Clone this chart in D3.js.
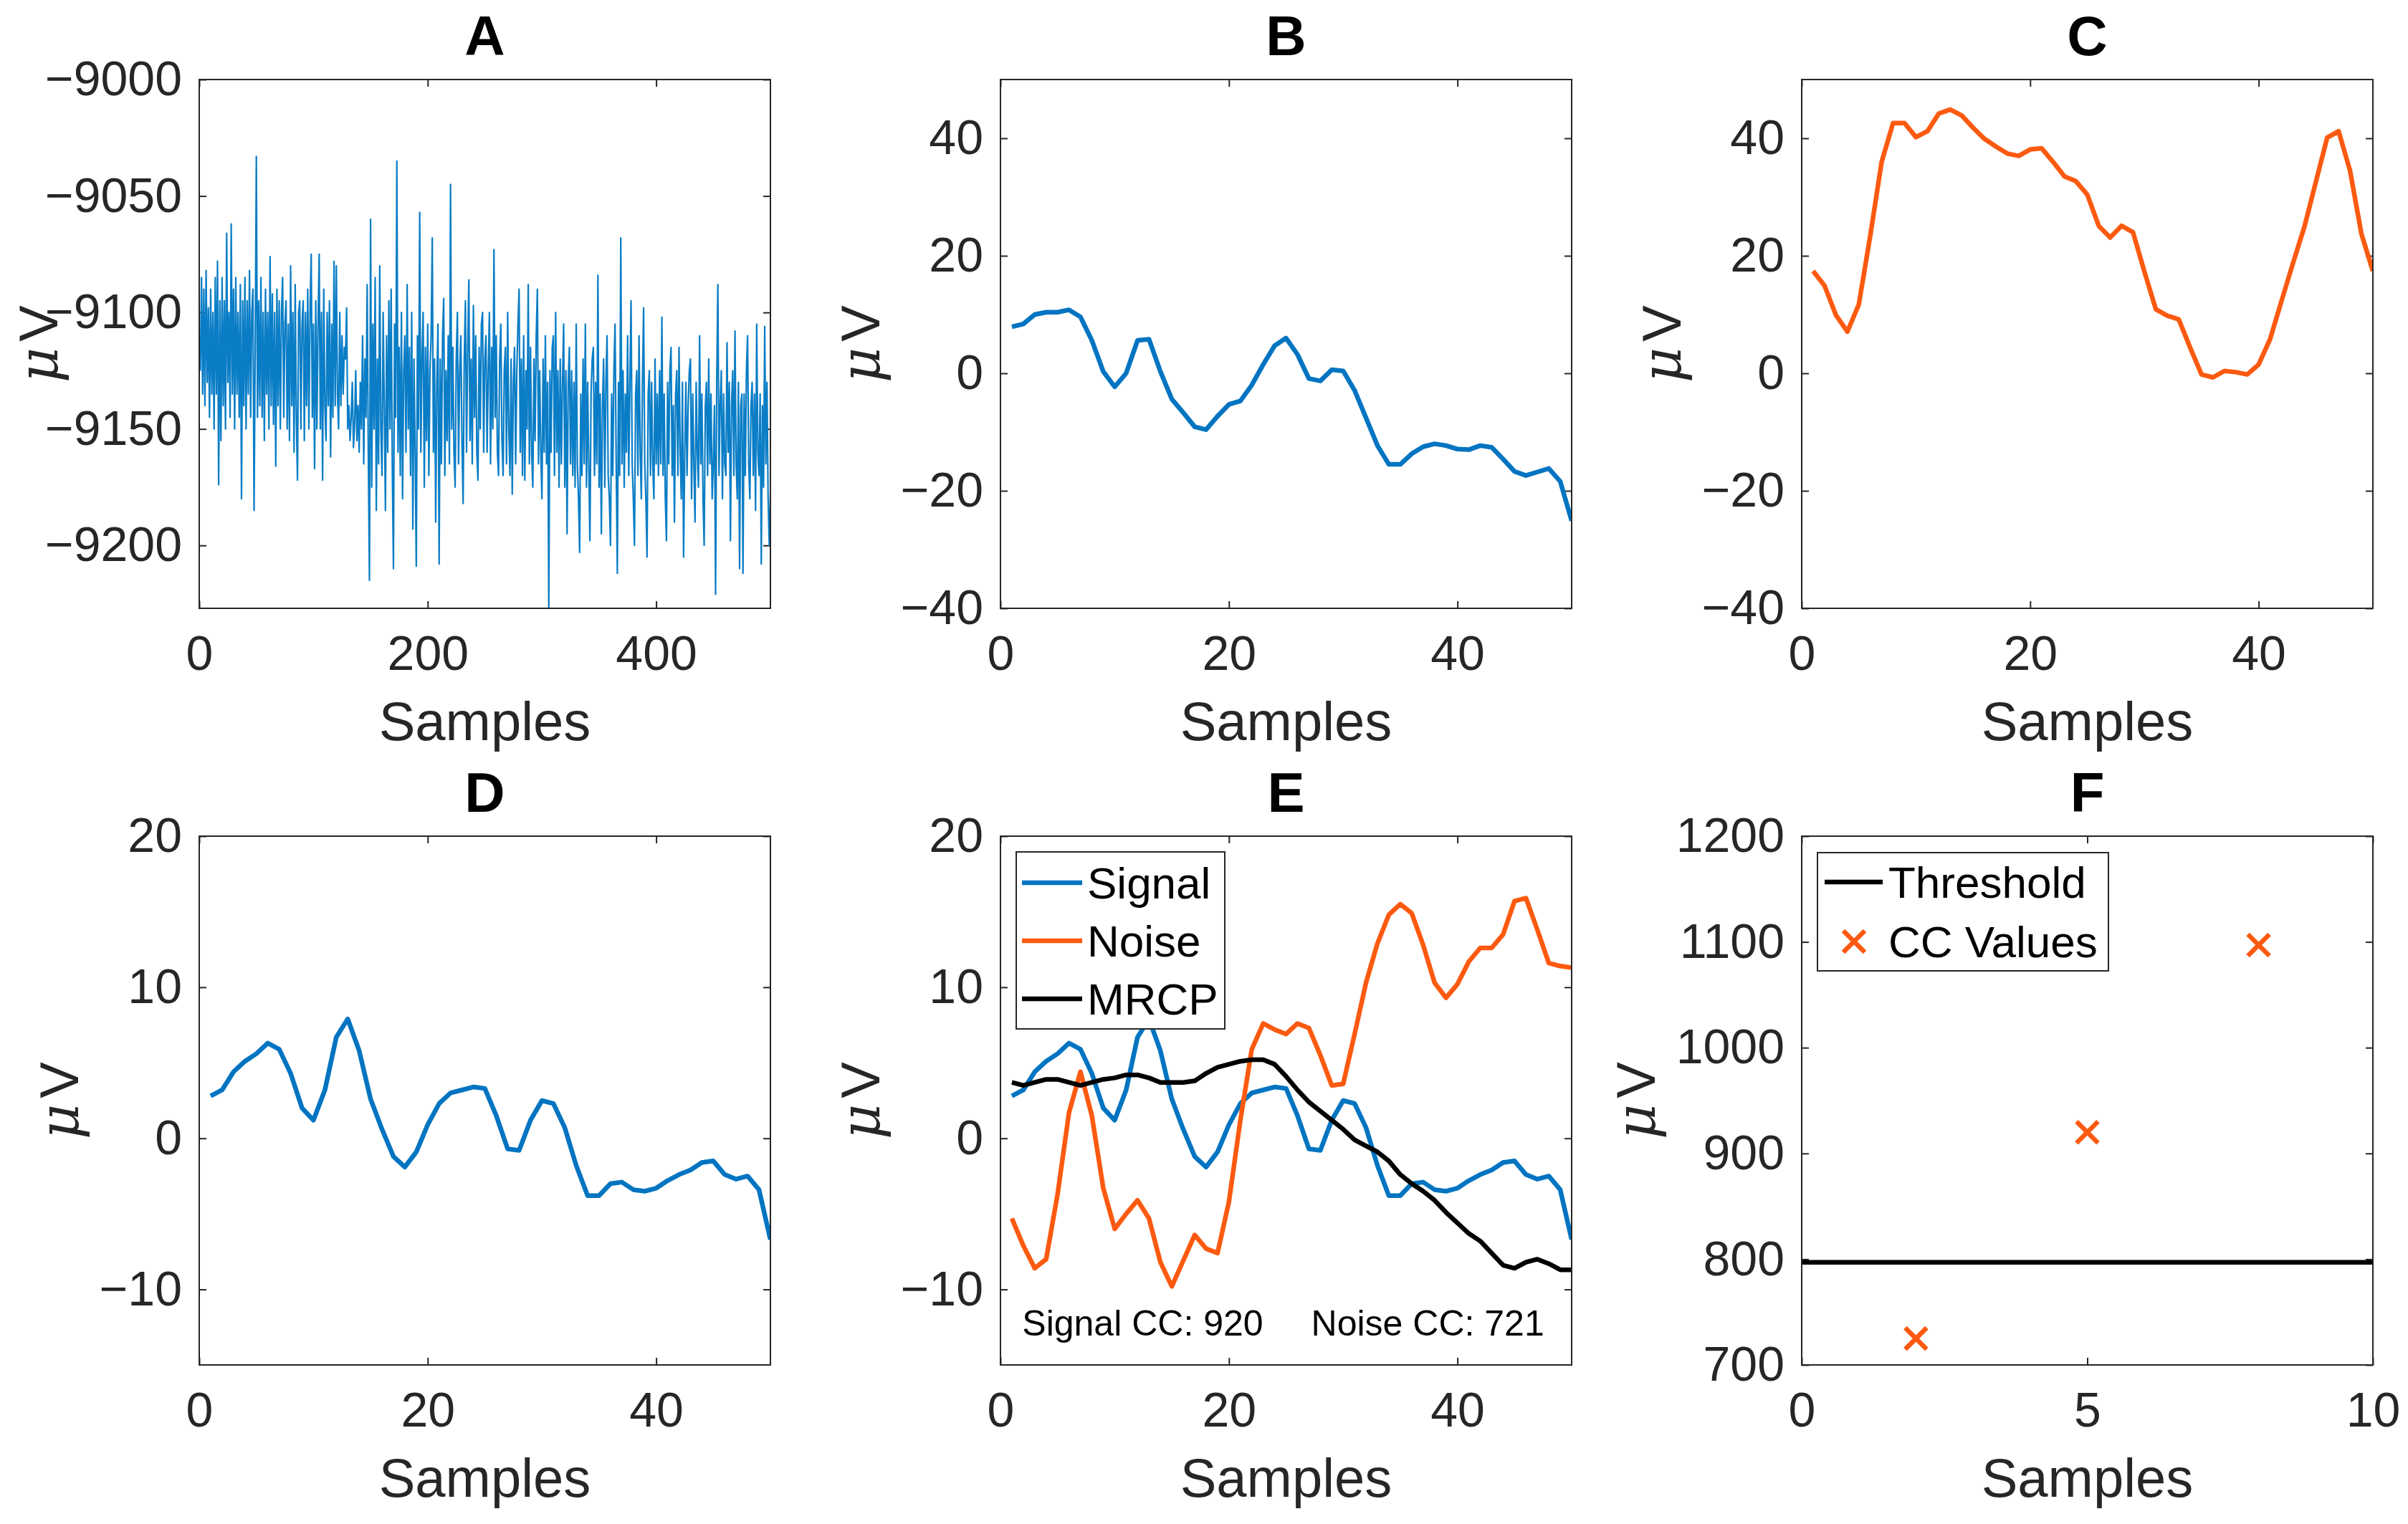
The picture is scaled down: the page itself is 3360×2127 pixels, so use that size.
<!DOCTYPE html>
<html><head><meta charset="utf-8">
<script src="https://cdn.jsdelivr.net/npm/d3@7"></script>
<style>
body{margin:0;background:#fff}
svg{display:block}
text{font-family:"Liberation Sans",Arial,Helvetica,sans-serif}
</style>
</head><body>
<svg id="chart" width="3360" height="2127"></svg>
<script>
// ---------------- DATA ----------------
const rawA = [
-9125,-9085,-9135,-9090,-9140,-9082,-9130,-9098,-9145,-9090,-9135,-9100,-9150,-9085,-9135,-9078,-9174,-9095,-9155,-9085,-9140,-9095,-9150,-9066,-9130,
-9100,-9145,-9062,-9135,-9090,-9150,-9085,-9135,-9100,-9145,-9088,-9180,-9095,-9140,-9085,-9150,-9095,-9135,-9082,-9145,-9100,-9090,-9185,-9115,-9033,
-9145,-9095,-9140,-9085,-9145,-9100,-9155,-9090,-9135,-9100,-9150,-9076,-9140,-9092,-9148,-9100,-9166,-9090,-9140,-9095,-9150,-9100,-9085,-9145,-9105,
-9095,-9150,-9105,-9155,-9080,-9140,-9100,-9160,-9088,-9145,-9172,-9100,-9095,-9150,-9105,-9095,-9155,-9100,-9140,-9090,-9150,-9100,-9075,-9145,-9105,
-9167,-9095,-9150,-9105,-9075,-9150,-9100,-9172,-9090,-9140,-9155,-9100,-9140,-9095,-9162,-9105,-9145,-9078,-9140,-9080,-9135,-9150,-9100,-9140,-9110,
-9135,-9115,-9120,-9098,-9150,-9140,-9155,-9145,-9130,-9158,-9148,-9125,-9155,-9140,-9160,-9130,-9150,-9110,-9165,-9120,-9145,-9088,-9160,-9215,-9060,
-9175,-9105,-9150,-9085,-9185,-9120,-9165,-9080,-9150,-9170,-9100,-9140,-9185,-9110,-9160,-9095,-9150,-9090,-9165,-9210,-9105,-9145,-9035,-9160,-9115,
-9170,-9100,-9180,-9125,-9110,-9160,-9088,-9150,-9115,-9170,-9100,-9193,-9120,-9160,-9209,-9110,-9150,-9057,-9160,-9120,-9100,-9175,-9115,-9155,-9105,
-9170,-9125,-9110,-9068,-9160,-9120,-9190,-9130,-9105,-9208,-9120,-9165,-9110,-9094,-9170,-9125,-9155,-9110,-9165,-9045,-9150,-9115,-9160,-9175,-9120,
-9100,-9165,-9125,-9110,-9155,-9182,-9120,-9095,-9160,-9115,-9086,-9155,-9120,-9165,-9097,-9145,-9110,-9160,-9172,-9115,-9150,-9105,-9100,-9160,-9120,
-9110,-9160,-9125,-9100,-9165,-9115,-9150,-9073,-9145,-9110,-9160,-9170,-9120,-9105,-9155,-9170,-9125,-9115,-9165,-9100,-9150,-9170,-9120,-9178,-9130,
-9115,-9165,-9125,-9105,-9090,-9160,-9120,-9170,-9110,-9172,-9125,-9150,-9088,-9165,-9115,-9160,-9175,-9120,-9155,-9110,-9090,-9165,-9125,-9160,-9180,
-9120,-9160,-9110,-9165,-9130,-9228,-9125,-9160,-9115,-9110,-9170,-9100,-9160,-9125,-9175,-9120,-9165,-9130,-9105,-9175,-9125,-9195,-9130,-9115,-9165,
-9125,-9170,-9130,-9175,-9105,-9165,-9180,-9203,-9135,-9170,-9120,-9165,-9105,-9175,-9130,-9165,-9198,-9135,-9120,-9115,-9170,-9130,-9165,-9084,-9175,
-9135,-9195,-9140,-9120,-9175,-9130,-9110,-9170,-9180,-9200,-9135,-9170,-9125,-9105,-9165,-9212,-9130,-9170,-9068,-9165,-9125,-9175,-9135,-9160,-9110,
-9170,-9130,-9095,-9165,-9180,-9200,-9135,-9125,-9170,-9110,-9160,-9180,-9130,-9098,-9165,-9180,-9205,-9135,-9125,-9170,-9130,-9165,-9180,-9120,-9165,
-9135,-9170,-9125,-9165,-9102,-9170,-9135,-9180,-9198,-9130,-9165,-9125,-9115,-9170,-9140,-9190,-9135,-9125,-9170,-9115,-9160,-9180,-9130,-9205,-9160,
-9130,-9170,-9140,-9125,-9120,-9180,-9135,-9165,-9190,-9130,-9160,-9175,-9110,-9165,-9135,-9180,-9200,-9140,-9130,-9170,-9120,-9165,-9135,-9180,-9165,
-9140,-9221,-9130,-9088,-9170,-9140,-9125,-9180,-9135,-9165,-9170,-9113,-9160,-9130,-9198,-9140,-9125,-9170,-9108,-9165,-9180,-9130,-9210,-9140,-9135,
-9212,-9135,-9170,-9125,-9110,-9165,-9180,-9140,-9130,-9170,-9135,-9185,-9105,-9160,-9170,-9135,-9208,-9140,-9175,-9106,-9165,-9130,-9180,-9200,-9178
];
const signalB = [7.9,8.4,10.0,10.4,10.4,10.8,9.6,5.6,0.3,-2.3,0.0,5.6,5.8,0.3,-4.4,-6.7,-9.1,-9.6,-7.3,-5.3,-4.7,-2.0,1.5,4.7,6.0,3.2,-0.9,-1.3,0.6,0.4,-2.9,-7.6,-12.3,-15.5,-15.5,-13.7,-12.5,-12.0,-12.3,-12.9,-13.0,-12.3,-12.6,-14.6,-16.7,-17.4,-16.8,-16.2,-18.4,-25.1];
const noiseC = [17.4,14.9,9.9,7.1,11.7,23.4,36.0,42.6,42.6,40.2,41.2,44.2,44.9,43.9,41.8,39.9,38.6,37.4,37.0,38.1,38.3,36.0,33.5,32.7,30.4,25.1,23.1,25.1,24.0,17.3,10.9,9.8,9.2,4.4,-0.2,-0.7,0.4,0.2,-0.2,1.5,5.8,12.3,18.7,24.9,32.5,40.1,41.2,34.5,23.7,17.4];
const signalD = [2.8,3.2,4.4,5.1,5.6,6.3,5.9,4.3,2.0,1.2,3.2,6.7,7.9,5.8,2.6,0.6,-1.2,-1.9,-0.9,0.9,2.3,3.0,3.2,3.4,3.3,1.5,-0.7,-0.8,1.2,2.5,2.3,0.7,-1.8,-3.8,-3.8,-3.0,-2.9,-3.4,-3.5,-3.3,-2.8,-2.4,-2.1,-1.6,-1.5,-2.4,-2.7,-2.5,-3.4,-6.7];
const noiseE = [-5.3,-7.1,-8.6,-8.0,-3.7,1.7,4.4,1.5,-3.3,-6.0,-5.0,-4.1,-5.3,-8.2,-9.8,-8.1,-6.4,-7.3,-7.6,-4.2,1.2,5.9,7.6,7.2,6.9,7.6,7.3,5.5,3.5,3.6,6.9,10.3,12.9,14.8,15.5,14.9,12.8,10.3,9.3,10.2,11.7,12.6,12.6,13.5,15.7,15.9,13.8,11.6,11.4,11.3];
const mrcpE = [3.7,3.5,3.7,3.9,3.9,3.7,3.5,3.7,3.9,4.0,4.2,4.2,4.0,3.7,3.7,3.7,3.8,4.3,4.7,4.9,5.1,5.2,5.2,4.9,4.1,3.2,2.4,1.8,1.2,0.6,-0.1,-0.5,-0.9,-1.5,-2.4,-3.0,-3.5,-4.1,-4.9,-5.6,-6.3,-6.8,-7.6,-8.4,-8.6,-8.2,-8.0,-8.3,-8.7,-8.7];
const ccSamples = [2, 5, 8];
const ccValues = [725, 920, 1097];
const thresholdValue = 797;
const titles = ["A","B","C","D","E","F"];
const xTicksA = [0, 200, 400];
const xTicks50 = [0, 20, 40];
const xTicksF = [0, 5, 10];
const yTicksA = [-9200, -9150, -9100, -9050, -9000];
const yTicksBC = [-40, -20, 0, 20, 40];
const yTicksDE = [-10, 0, 10, 20];
const yTicksF = [700, 800, 900, 1000, 1100, 1200];
const ccLabels = ["Signal CC: 920", "Noise CC: 721"];
const legendE = ["Signal", "Noise", "MRCP"];
const legendF = ["Threshold", "CC Values"];
const xLabel = "Samples";

// ---------------- STYLE / LAYOUT ----------------
const BLUE = "#0074C1", ORANGE = "#FC5A10", BLACK = "#000000", AX = "#262626";
const colL = [278, 1396, 2514], rowT = [111, 1167], PW = 797, PH = 738;
const svg = d3.select("#chart");
svg.append("rect").attr("width",3360).attr("height",2127).attr("fill","#fff");
const fmt = d3.format("d");

function panel(idx, col, row, xd, yd, xt, yt, opts = {}) {
  const L = colL[col], T = rowT[row];
  const x = d3.scaleLinear().domain(xd).range([L, L + PW]);
  const y = d3.scaleLinear().domain(yd).range([T + PH, T]);
  const g = svg.append("g");
  const cid = "clip" + idx;
  svg.append("clipPath").attr("id", cid).append("rect")
    .attr("x", L).attr("y", T).attr("width", PW).attr("height", PH);

  const styleAxis = sel => {
    sel.select(".domain").remove();
    sel.selectAll(".tick line").attr("stroke", AX).attr("stroke-width", 2);
    sel.selectAll(".tick text").attr("fill", AX).attr("font-size", 68)
      .attr("font-family", '"Liberation Sans",Arial,sans-serif');
  };
  g.append("g").attr("transform", `translate(0,${T + PH})`)
    .call(d3.axisBottom(x).tickValues(xt).tickFormat(fmt).tickSizeInner(-10).tickSizeOuter(0).tickPadding(38))
    .call(styleAxis);
  g.append("g").attr("transform", `translate(0,${T})`)
    .call(d3.axisTop(x).tickValues(xt).tickFormat("").tickSizeInner(-10).tickSizeOuter(0))
    .call(styleAxis);
  const la = g.append("g").attr("transform", `translate(${L},0)`)
    .call(d3.axisLeft(y).tickValues(yt).tickFormat(fmt).tickSizeInner(-10).tickSizeOuter(0).tickPadding(24))
    .call(styleAxis);
  g.append("g").attr("transform", `translate(${L + PW},0)`)
    .call(d3.axisRight(y).tickValues(yt).tickFormat("").tickSizeInner(-10).tickSizeOuter(0))
    .call(styleAxis);

  const plot = g.append("g").attr("clip-path", `url(#${cid})`);

  g.append("text").attr("x", L + PW / 2).attr("y", T - 34).attr("text-anchor", "middle")
    .attr("font-size", 78).attr("font-weight", "bold").attr("fill", BLACK).text(titles[idx]);
  g.append("text").attr("x", L + PW / 2).attr("y", T + PH + 184).attr("text-anchor", "middle")
    .attr("font-size", 76).attr("fill", AX).text(xLabel);
  let maxW = 0;
  la.selectAll(".tick text").each(function () { maxW = Math.max(maxW, this.getComputedTextLength()); });
  let bx = opts.ylabX !== undefined ? opts.ylabX : L - 24 - maxW - 30;
  const yl = g.append("text").attr("transform", `translate(${bx},${T + PH / 2}) rotate(-90)`)
    .attr("text-anchor", "middle").attr("font-size", 76).attr("fill", AX);
  yl.append("tspan").attr("font-family", '"DejaVu Serif","Liberation Serif",serif').attr("font-style", "italic").text("μ");
  yl.append("tspan").attr("dx", 8).text("V");

  return { x, y, g, plot, L, T };
}

function drawLine(p, data, color, width) {
  const line = d3.line().x((d, i) => p.x(i + 1)).y(d => p.y(d));
  p.plot.append("path").datum(data).attr("d", line).attr("fill", "none")
    .attr("stroke", color).attr("stroke-width", width).attr("stroke-linejoin", "round");
}
function boxAxes(p) {
  p.g.append("rect").attr("x", p.L).attr("y", p.T).attr("width", PW).attr("height", PH)
    .attr("fill", "none").attr("stroke", AX).attr("stroke-width", 2);
}
function xMark(sel, cx, cy, r, color) {
  sel.append("path").attr("d", `M${cx - r},${cy - r}L${cx + r},${cy + r}M${cx - r},${cy + r}L${cx + r},${cy - r}`)
    .attr("stroke", color).attr("stroke-width", 6.5).attr("fill", "none");
}

// A
const pA = panel(0, 0, 0, [0, 500], [-9227, -9000], xTicksA, yTicksA, { ylabX: 80 });
drawLine(pA, rawA, "#0A7DC6", 2.2); boxAxes(pA);
// B
const pB = panel(1, 1, 0, [0, 50], [-40, 50], xTicks50, yTicksBC);
drawLine(pB, signalB, BLUE, 6.5); boxAxes(pB);
// C
const pC = panel(2, 2, 0, [0, 50], [-40, 50], xTicks50, yTicksBC);
drawLine(pC, noiseC, ORANGE, 6.5); boxAxes(pC);
// D
const pD = panel(3, 0, 1, [0, 50], [-15, 20], xTicks50, yTicksDE);
drawLine(pD, signalD, BLUE, 6.5); boxAxes(pD);
// E
const pE = panel(4, 1, 1, [0, 50], [-15, 20], xTicks50, yTicksDE);
drawLine(pE, signalD, BLUE, 6.5);
drawLine(pE, noiseE, ORANGE, 6.5);
drawLine(pE, mrcpE, BLACK, 6.5);
boxAxes(pE);
[[1.9, ccLabels[0]], [27.2, ccLabels[1]]].forEach(([xv, t]) => {
  pE.g.append("text").attr("x", pE.x(xv)).attr("y", pE.y(-13.06)).attr("font-size", 50).attr("fill", BLACK).text(t);
});
{
  const lg = pE.g.append("g").attr("transform", `translate(${pE.L + 22},${pE.T + 22})`);
  lg.append("rect").attr("width", 291).attr("height", 247).attr("fill", "#fff").attr("stroke", AX).attr("stroke-width", 2);
  const cols = [BLUE, ORANGE, BLACK];
  legendE.forEach((t, i) => {
    const yy = 43 + i * 81;
    lg.append("line").attr("x1", 8).attr("x2", 92).attr("y1", yy).attr("y2", yy).attr("stroke", cols[i]).attr("stroke-width", 6.5);
    lg.append("text").attr("x", 99).attr("y", yy).attr("dy", "0.35em").attr("font-size", 62).attr("fill", BLACK).text(t);
  });
}
// F
const pF = panel(5, 2, 1, [0, 10], [700, 1200], xTicksF, yTicksF);
pF.plot.append("line").attr("x1", pF.x(0)).attr("x2", pF.x(10)).attr("y1", pF.y(thresholdValue)).attr("y2", pF.y(thresholdValue))
  .attr("stroke", BLACK).attr("stroke-width", 6.5);
ccSamples.forEach((s, i) => xMark(pF.plot, pF.x(s), pF.y(ccValues[i]), 15, ORANGE));
boxAxes(pF);
{
  const lg = pF.g.append("g").attr("transform", `translate(${pF.L + 22},${pF.T + 23})`);
  lg.append("rect").attr("width", 406).attr("height", 165).attr("fill", "#fff").attr("stroke", AX).attr("stroke-width", 2);
  lg.append("line").attr("x1", 10).attr("x2", 91).attr("y1", 41).attr("y2", 41).attr("stroke", BLACK).attr("stroke-width", 6.5);
  lg.append("text").attr("x", 99).attr("y", 41).attr("dy", "0.35em").attr("font-size", 62).attr("fill", BLACK).text(legendF[0]);
  xMark(lg, 51, 124, 15, ORANGE);
  lg.append("text").attr("x", 99).attr("y", 124).attr("dy", "0.35em").attr("font-size", 62).attr("fill", BLACK).text(legendF[1]);
}
</script>
</body></html>
